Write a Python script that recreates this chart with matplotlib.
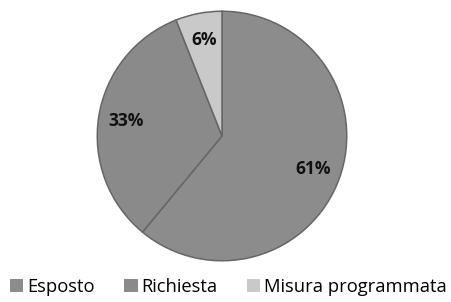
import matplotlib.pyplot as plt

# slices, clockwise from 12 o'clock
labels = ["Esposto", "Richiesta", "Misura programmata"]
values = [61, 33, 6]
colors = ["#8c8c8c", "#8a8a8a", "#c9c9c9"]

fig = plt.figure(figsize=(4.52, 3.02), dpi=100)
ax = fig.add_axes([(222 - 126) / 452, 1 - 262 / 302, 252 / 452, 252 / 302])

wedges, texts, autotexts = ax.pie(
    values, colors=colors, startangle=90, counterclock=False,
    autopct="%d%%", pctdistance=0.78,
    wedgeprops=dict(edgecolor="#666666", linewidth=1.1),
    textprops=dict(fontsize=12.5, fontweight="bold", color="#111111",
                   family="Open Sans"),
)
ax.set_xlim(-1.01, 1.01)
ax.set_ylim(-1.01, 1.01)
ax.set_aspect("equal")

leg = fig.legend(wedges, labels, loc="lower center", ncol=3, frameon=False,
                 bbox_to_anchor=(0.505, -0.035), handlelength=0.75,
                 handleheight=0.75, handletextpad=0.2, columnspacing=1.6,
                 prop=dict(family="Open Sans", size=13.2))
for h in leg.legend_handles:
    h.set_edgecolor("none")

fig.savefig("out.png", dpi=100)
